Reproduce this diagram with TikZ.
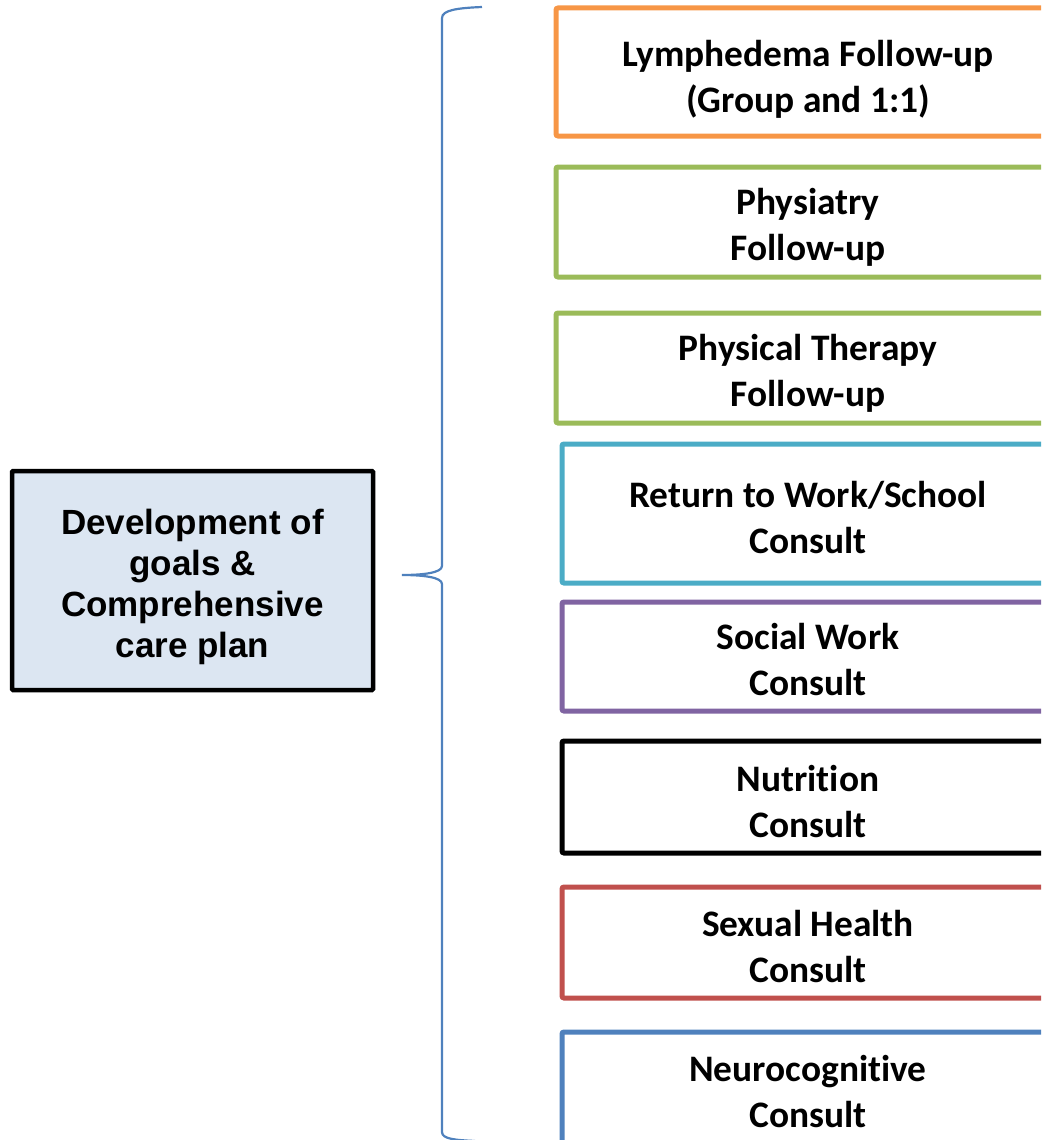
\documentclass[tikz,border=0pt]{standalone}
\usepackage{fontspec}
\newfontfamily\calib[Ligatures={NoCommon}]{Carlito}
\newfontfamily\arialf{Liberation Sans}
\definecolor{corange}{HTML}{F79646}
\definecolor{cgreen}{HTML}{9BBB59}
\definecolor{ccyan}{HTML}{4BACC6}
\definecolor{cpurple}{HTML}{8064A2}
\definecolor{cred}{HTML}{C0504D}
\definecolor{cblue}{HTML}{4F81BD}
\definecolor{cfill}{HTML}{DCE6F2}
\begin{document}
\begin{tikzpicture}[x=1pt,y=-1pt,
  cbox/.style={line width=5pt,rounded corners=2pt},
  ctext/.style={align=center,font=\calib\bfseries\fontsize{37.4}{46}\selectfont,inner sep=0pt},
  mainbox/.style={draw=black,line width=4.5pt,fill=cfill,rounded corners=1pt},
  maintext/.style={align=center,font=\arialf\bfseries\fontsize{35}{41}\selectfont,inner sep=0pt},
  brace/.style={draw=cblue,line width=2.2pt}]
\useasboundingbox (0,0) rectangle (1041,1140);
\clip (0,0) rectangle (1041,1140);
% left box
\draw[mainbox] (12,471) rectangle (373,690);
\node[maintext] (main) at (192.5,587) {Development of\\goals \&\\Comprehensive\\care plan};
% brace
\draw[brace] (482,7) .. controls (458,8) and (442,10) .. (442,18) -- (442,566)
  .. controls (442,573) and (422,575) .. (402,575)
  .. controls (422,575) and (442,577) .. (442,584) -- (442,1132)
  .. controls (442,1139) and (455,1140) .. (475,1141);
% right boxes
\draw[cbox,draw=corange] (1065,8) -- (556,8) -- (556,136) -- (1065,136);
\node[ctext] (b1) at (808,79) {Lymphedema Follow-up\\(Group and 1:1)};
\draw[cbox,draw=cgreen] (1065,167) -- (556,167) -- (556,277) -- (1065,277);
\node[ctext] (b2) at (808,227) {Physiatry\\Follow-up};
\draw[cbox,draw=cgreen] (1065,313) -- (556,313) -- (556,423) -- (1065,423);
\node[ctext] (b3) at (808,373) {Physical Therapy\\Follow-up};
\draw[cbox,draw=ccyan] (1065,444) -- (562,444) -- (562,583) -- (1065,583);
\node[ctext] (b4) at (808,518) {Return to Work/School\\Consult};
\draw[cbox,draw=cpurple] (1065,602) -- (562,602) -- (562,711) -- (1065,711);
\node[ctext] (b5) at (808,660) {Social Work\\Consult};
\draw[cbox,draw=black] (1065,741) -- (562,741) -- (562,853) -- (1065,853);
\node[ctext] (b6) at (808,802) {Nutrition\\Consult};
\draw[cbox,draw=cred] (1065,887) -- (562,887) -- (562,998) -- (1065,998);
\node[ctext] (b7) at (808,947) {Sexual Health\\Consult};
\draw[cbox,draw=cblue] (1065,1032) -- (562,1032) -- (562,1160);
\node[ctext] (b8) at (808,1092) {Neurocognitive\\Consult};
\end{tikzpicture}
\end{document}
